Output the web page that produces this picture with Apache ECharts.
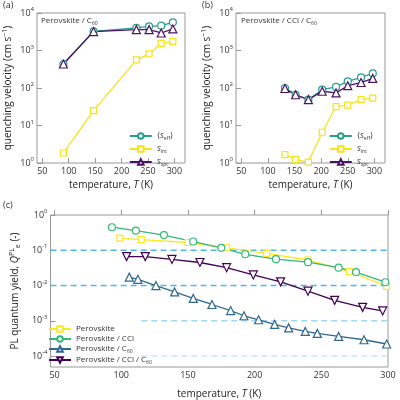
<!DOCTYPE html>
<html><head><meta charset="utf-8">
<script src="https://cdn.jsdelivr.net/npm/echarts@6/dist/echarts.min.js"></script>
<style>html,body{margin:0;background:#fff}#c{width:400px;height:400px}</style>
</head><body><div id="c"></div>
<script>
// panel (a) Perovskite / C60
const tA = [90, 147, 228, 252, 275, 297];
const aEff = [436, 3240, 3990, 4400, 4600, 5640];
const aInt = [1.85, 25, 560, 810, 1550, 1750];
const aSpc = [436, 3200, 3600, 3600, 2930, 3750];
// panel (b) Perovskite / CCl / C60
const tB = [132, 152, 176, 202, 228, 250, 275, 297];
const bEff = [100, 66, 49, 90, 107, 150, 192, 245];
const bInt = [1.67, 1.23, 1.06, 6.6, 32, 35, 49, 54];
const bSpc = [97, 66, 49, 82, 74, 115, 140, 180];
// panel (c) PL quantum yield
const tPero = [99, 115, 150, 179, 209, 240, 271, 299];
const qPero = [0.22, 0.20, 0.166, 0.117, 0.082, 0.053, 0.025, 0.0095];
const tCCl = [93, 111, 132, 154, 175, 193, 216, 240, 263, 276, 298];
const qCCl = [0.45, 0.36, 0.27, 0.177, 0.117, 0.077, 0.056, 0.046, 0.032, 0.024, 0.0124];
const tC60 = [106, 112.5, 126, 140, 154, 168, 182, 192, 203, 215, 225.5, 238, 247, 263, 282, 299];
const qC60 = [0.0173, 0.015, 0.01, 0.0066, 0.0043, 0.0029, 0.00195, 0.00139, 0.00107, 0.00079, 0.00063, 0.0005, 0.00044, 0.00036, 0.00029, 0.00022];
const tBoth = [104, 118, 138, 159, 179, 199, 219.5, 240, 260, 281, 296];
const qBoth = [0.066, 0.066, 0.055, 0.045, 0.032, 0.02, 0.0127, 0.0069, 0.0038, 0.0024, 0.0019];
const tickT = [50, 100, 150, 200, 250, 300];
const decQ = [0, 1, 2, 3, 4];
const decPL = [-4, -3, -2, -1, 0];

const F = 'Open Sans';
const TEAL = '#2a9d8f', YEL = '#f7e31c', PUR = '#4a1466';
const V = ['#fde725', '#35b779', '#31688e', '#440154'];
const pts = (t, v) => t.map((x, i) => [x, Math.log10(v[i])]);
const rich = {
  b: { fontSize: 9, fontFamily: F, color: '#333' },
  s: { fontSize: 6, fontFamily: F, color: '#333', padding: [0, 0, 7, 0] },
  i: { fontSize: 9, fontFamily: F, color: '#333', fontStyle: 'italic' },
  d: { fontSize: 6, fontFamily: F, color: '#333', padding: [5, 0, 0, 0] }
};
const powLabel = v => '{b|10}{s|' + v + '}';

const grids = [
  { left: 36, right: 215, top: 13, bottom: 237 },
  { left: 236, right: 15, top: 13, bottom: 237 },
  { left: 41, right: 12, top: 215, bottom: 33 }
];
const xAxis = [], yAxis = [], series = [];
grids.forEach((g, k) => {
  g.show = true; g.borderColor = '#999'; g.borderWidth = 1;
  xAxis.push({
    type: 'value', gridIndex: k, min: k < 2 ? 40 : 47, max: k < 2 ? 320 : 300,
    axisLine: { show: false }, splitLine: { show: false },
    axisTick: { inside: true, customValues: tickT, lineStyle: { color: '#999' } },
    axisLabel: { customValues: tickT, fontSize: 9, fontFamily: F, color: '#333', margin: 4 },
    name: '{b|temperature, }{i|T}{b| (K)}', nameLocation: 'middle', nameGap: k < 2 ? 17 : 22,
    nameTextStyle: { rich: { b: { fontSize: 10, fontFamily: F, color: '#222' }, i: { fontSize: 10, fontFamily: F, color: '#222', fontStyle: 'italic' } } }
  });
  const dec = k < 2 ? decQ : decPL;
  yAxis.push({
    type: 'value', gridIndex: k, min: k < 2 ? 0 : -4.31, max: k < 2 ? 4 : 0,
    axisLine: { show: false }, splitLine: { show: false },
    axisTick: { inside: true, customValues: dec, lineStyle: { color: '#999' } },
    axisLabel: { customValues: dec, formatter: powLabel, rich: rich, margin: 3 },
    name: k < 2 ? '{b|quenching velocity (cm s}{s|−1}{b|)}' : '{b|PL quantum yield, }{i|Q}{s|PL}{d|e}{b| (-)}',
    nameLocation: 'middle', nameGap: 22,
    nameTextStyle: { rich: {
      b: { fontSize: 10, fontFamily: F, color: '#222' },
      i: { fontSize: 10, fontFamily: F, color: '#222', fontStyle: 'italic' },
      s: { fontSize: 7, fontFamily: F, color: '#222', padding: [0, 0, 7, 0] },
      d: { fontSize: 7, fontFamily: F, color: '#222', padding: [5, 0, 0, 0] }
    } }
  });
});

function line(name, k, data, color, symbol, size) {
  return {
    name: name, type: 'line', xAxisIndex: k, yAxisIndex: k, data: data,
    symbol: symbol, symbolSize: size || 7, itemStyle: { color: '#fff', borderColor: color, borderWidth: 1.2 },
    lineStyle: { color: color, width: 1.3 }, z: 3
  };
}
[[tA, aEff, aInt, aSpc], [tB, bEff, bInt, bSpc]].forEach((p, k) => {
  series.push(line('eff' + k, k, pts(p[0], p[1]), TEAL, 'circle'));
  series.push(line('int' + k, k, pts(p[0], p[2]), YEL, 'rect', 6));
  series.push(line('spc' + k, k, pts(p[0], p[3]), PUR, 'triangle', 8));
});
// dashed reference lines in (c)
const dash = (lv, x0, c) => ({
  type: 'line', xAxisIndex: 2, yAxisIndex: 2, data: [[x0, lv], [300, lv]], symbol: 'none',
  lineStyle: { color: c, type: [6, 4], width: 1.5 }, z: 1, silent: true
});
series.push(dash(-1, 47, '#4db8e8'), dash(-2, 47, '#4db8e8'), dash(-3, 115, '#9ed8f0'), dash(-4, 115, '#c5e8f5'));
series.push(line('Perovskite', 2, pts(tPero, qPero), V[0], 'rect', 6));
series.push(line('Perovskite / CCl', 2, pts(tCCl, qCCl), V[1], 'circle'));
series.push(line('Perovskite / C60', 2, pts(tC60, qC60), V[2], 'triangle', 8));
series.push(line('Perovskite / CCl / C60', 2, pts(tBoth, qBoth), V[3], 'path://M0,0L10,0L5,9Z', 8));

const legRich = {
  b: { fontSize: 8, fontFamily: F, color: '#333' },
  i: { fontSize: 8, fontFamily: F, color: '#333', fontStyle: 'italic' },
  d: { fontSize: 5, fontFamily: F, color: '#333', padding: [5, 0, 0, 0] }
};
const legNames = {
  eff: '{b|⟨}{i|S}{d|eff}{b|⟩}', int: '{i|S}{d|int}', spc: '{i|S}{d|spc}',
  'Perovskite / C60': '{b|Perovskite / C}{d|60}', 'Perovskite / CCl / C60': '{b|Perovskite / CCl / C}{d|60}'
};
const legFmt = n => legNames[n.replace(/[01]$/, '')] || legNames[n] || '{b|' + n + '}';
const legend = [
  { data: ['eff0', 'int0', 'spc0'], right: 222, top: 127, orient: 'vertical', itemGap: 4 },
  { data: ['eff1', 'int1', 'spc1'], right: 22, top: 127, orient: 'vertical', itemGap: 4 },
  { data: ['Perovskite', 'Perovskite / CCl', 'Perovskite / C60', 'Perovskite / CCl / C60'], left: 43, top: 320, orient: 'vertical', itemGap: 2 }
].map(l => Object.assign(l, { itemWidth: 22, itemHeight: 7, formatter: legFmt, textStyle: { rich: legRich } }));

const txt = (x, y, t, s) => ({ type: 'text', left: x, top: y, style: { text: t, rich: legRich, font: (s || 9) + 'px ' + F, fill: '#333' } });
const graphic = [
  { type: 'text', left: 3, top: 1, style: { text: '(a)', font: '9px ' + F, fill: '#333' } },
  { type: 'text', left: 202, top: 1, style: { text: '(b)', font: '9px ' + F, fill: '#333' } },
  { type: 'text', left: 3, top: 201, style: { text: '(c)', font: '9px ' + F, fill: '#333' } },
  txt(41, 17, '{b|Perovskite / C}{d|60}'),
  txt(241, 17, '{b|Perovskite / CCl / C}{d|60}')
];

const chart = echarts.init(document.getElementById('c'));
chart.setOption({ animation: false, grid: grids, xAxis: xAxis, yAxis: yAxis, series: series, legend: legend, graphic: graphic });
</script></body></html>
